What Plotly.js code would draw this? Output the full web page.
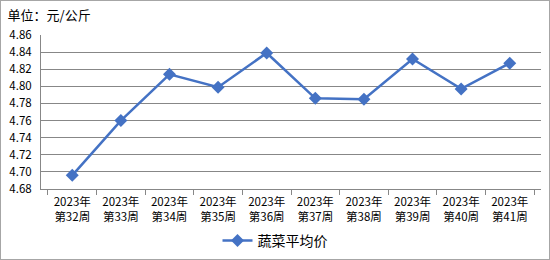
<!DOCTYPE html>
<html>
<head>
<meta charset="utf-8">
<script src="https://cdn.plot.ly/plotly-3.0.1.min.js"></script>
<style>
html,body{margin:0;padding:0;background:#fff;}
#wrap{width:548px;height:258px;border:1px solid #a6a6a6;}
#chart{width:548px;height:258px;}
</style>
</head>
<body>
<div id="wrap"><div id="chart"></div></div>
<script>
const weeks = ["2023年<br>第32周","2023年<br>第33周","2023年<br>第34周","2023年<br>第35周","2023年<br>第36周","2023年<br>第37周","2023年<br>第38周","2023年<br>第39周","2023年<br>第40周","2023年<br>第41周"];
const veg = [4.696, 4.760, 4.814, 4.799, 4.839, 4.786, 4.785, 4.832, 4.797, 4.827];
const seriesName = "蔬菜平均价";
const unitTitle = "单位：元/公斤";

const font = "'Noto Sans CJK SC', 'DejaVu Sans', sans-serif";
Plotly.newPlot('chart', [{
  x: weeks, y: veg, type: 'scatter', mode: 'lines+markers', name: seriesName,
  line: {color: '#4472C4', width: 2.5},
  marker: {symbol: 'diamond', size: 10, color: '#4472C4'}
}], {
  width: 548, height: 258,
  margin: {l: 40, r: 8, t: 34, b: 70},
  paper_bgcolor: '#fff', plot_bgcolor: '#fff',
  font: {family: font, size: 12, color: '#000'},
  title: {text: unitTitle, x: 0.012, xanchor: 'left', y: 0.945, yanchor: 'middle', font: {family: font, size: 13, color: '#000'}},
  xaxis: {
    type: 'category', tickson: 'boundaries', ticks: 'outside', ticklen: 5, tickcolor: '#878787',
    showline: true, linecolor: '#878787', linewidth: 1, showgrid: false, automargin: false,
    ticklabelstandoff: 2,
    tickfont: {family: font, size: 11.5, color: '#000'}
  },
  yaxis: {
    range: [4.68, 4.86], dtick: 0.02, tickformat: '.2f', automargin: false,
    showgrid: true, gridcolor: '#878787', gridwidth: 1,
    showline: true, linecolor: '#878787', linewidth: 1, ticks: '',
    zeroline: false, ticklabelstandoff: 6,
    tickfont: {family: font, size: 11.5, color: '#000'}
  },
  showlegend: true,
  legend: {orientation: 'h', x: 0.5, xanchor: 'center', xref: 'container', y: 0.07, yanchor: 'middle', yref: 'container', font: {family: font, size: 14, color: '#000'}}
}, {displayModeBar: false, staticPlot: true});
</script>
</body>
</html>
